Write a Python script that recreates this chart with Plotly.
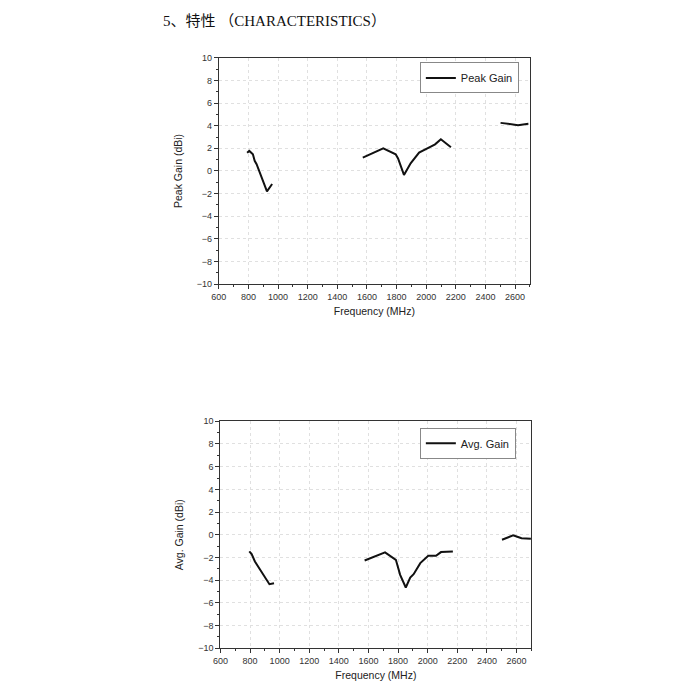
import plotly.graph_objects as go

# ---- data ----
peak_low_f = [791, 806, 830, 842, 855, 870, 900, 925, 960]
peak_low_g = [1.6, 1.77, 1.47, 0.9, 0.6, 0.1, -0.9, -1.8, -1.15]
peak_mid_f = [1572, 1640, 1710, 1794, 1810, 1850, 1895, 1952, 2000, 2031, 2060, 2099, 2167]
peak_mid_g = [1.18, 1.6, 2.0, 1.47, 1.1, -0.35, 0.68, 1.62, 1.9, 2.15, 2.35, 2.8, 2.1]
peak_high_f = [2502, 2560, 2620, 2690]
peak_high_g = [4.25, 4.15, 4.05, 4.18]

avg_low_f = [795, 811, 833, 867, 901, 931, 962]
avg_low_g = [-1.47, -1.71, -2.36, -3.09, -3.83, -4.36, -4.27]
avg_mid_f = [1574, 1637, 1712, 1785, 1814, 1852, 1882, 1905, 1950, 2004, 2056, 2090, 2170]
avg_mid_g = [-2.27, -1.92, -1.56, -2.21, -3.53, -4.65, -3.77, -3.48, -2.5, -1.86, -1.86, -1.53, -1.47]
avg_high_f = [2502, 2540, 2577, 2610, 2634, 2697]
avg_high_g = [-0.44, -0.22, -0.06, -0.2, -0.3, -0.35]

x_ticks = list(range(600, 2601, 200))
y_ticks = list(range(-10, 11, 2))

title_text = "5、特性 （CHARACTERISTICS）"
x_title = "Frequency (MHz)"
peak_title = "Peak Gain (dBi)"
avg_title = "Avg. Gain (dBi)"


def join(*segs):
    xs, ys = [], []
    for f, g in segs:
        if xs:
            xs.append(None)
            ys.append(None)
        xs.extend(f)
        ys.extend(g)
    return xs, ys


px, py = join((peak_low_f, peak_low_g), (peak_mid_f, peak_mid_g), (peak_high_f, peak_high_g))
ax_, ay_ = join((avg_low_f, avg_low_g), (avg_mid_f, avg_mid_g), (avg_high_f, avg_high_g))

fig = go.Figure()
fig.add_trace(go.Scatter(x=px, y=py, mode="lines", name="Peak Gain",
                         line=dict(color="#111111", width=2), connectgaps=False,
                         xaxis="x", yaxis="y", legend="legend"))
fig.add_trace(go.Scatter(x=ax_, y=ay_, mode="lines", name="Avg. Gain",
                         line=dict(color="#111111", width=2), connectgaps=False,
                         xaxis="x2", yaxis="y2", legend="legend2"))

tickfont = dict(family="Liberation Sans, Arial", size=9, color="#333333")
titlefont = dict(family="Liberation Sans, Arial", size=10.5, color="#222222")


def xaxis(domain, anchor):
    return dict(domain=domain, anchor=anchor, range=[600, 2700], tickvals=x_ticks,
                showline=True, linecolor="#333333", linewidth=1, mirror=True,
                ticks="outside", ticklen=4, tickcolor="#333333", tickwidth=1,
                minor=dict(dtick=100, tick0=600, ticks="outside", ticklen=2, tickcolor="#333333", showgrid=False),
                showgrid=True, gridcolor="#e0e0e0", griddash="dot", gridwidth=1,
                zeroline=False, tickfont=tickfont,
                title=dict(text=x_title, font=titlefont, standoff=6))


def yaxis(domain, anchor, title):
    return dict(domain=domain, anchor=anchor, range=[-10, 10], tickvals=y_ticks,
                showline=True, linecolor="#333333", linewidth=1, mirror=True,
                ticks="outside", ticklen=4, tickcolor="#333333", tickwidth=1,
                minor=dict(dtick=1, tick0=0, ticks="outside", ticklen=2, tickcolor="#333333", showgrid=False),
                showgrid=True, gridcolor="#e0e0e0", griddash="dot", gridwidth=1,
                zeroline=False, tickfont=tickfont,
                title=dict(text=title, font=titlefont, standoff=12))


legend_common = dict(bgcolor="white", bordercolor="#888888", borderwidth=1,
                     font=dict(family="Liberation Sans, Arial", size=11, color="#222222"),
                     xanchor="left", yanchor="middle", itemwidth=30, tracegroupgap=0)

fig.update_layout(
    width=700, height=700,
    margin=dict(l=0, r=0, t=0, b=0),
    paper_bgcolor="white", plot_bgcolor="white",
    xaxis=xaxis([0.2931, 0.7426], "y"),
    yaxis=yaxis([0.6070, 0.9351], "x", peak_title),
    xaxis2=xaxis([0.2954, 0.7447], "y2"),
    yaxis2=yaxis([0.0794, 0.4083], "x2", avg_title),
    legend=dict(x=0.5836, y=0.9058, **legend_common),
    legend2=dict(x=0.5836, y=0.3764, **legend_common),
    showlegend=True,
    annotations=[dict(text=title_text, x=0.209, y=0.9886, xref="paper", yref="paper",
                      xanchor="left", yanchor="middle", showarrow=False,
                      font=dict(family="Liberation Serif, Noto Sans CJK SC", size=15, color="#111111"))],
)

fig.write_html("out.html")
